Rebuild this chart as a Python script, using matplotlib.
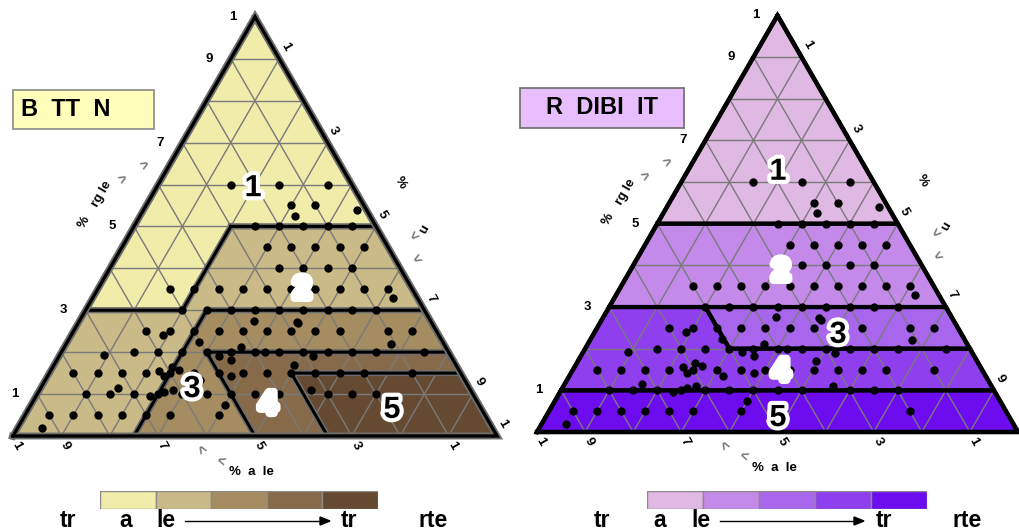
import matplotlib
matplotlib.use("Agg")
import matplotlib.pyplot as plt
import matplotlib.patheffects as pe
from matplotlib.patches import Polygon, Rectangle
import numpy as np

plt.rcParams["font.family"] = ["Liberation Sans", "DejaVu Sans"]
plt.rcParams["font.weight"] = "bold"

W, H = 1019, 530
SQ = np.sqrt(3) / 2

# samples: % of the apex component (top) and of the right-hand component
top_pct = [
    60, 60, 60,
    55, 55, 52.5, 54,
    50, 50, 50, 50, 50,
    45, 45, 45, 45, 45,
    40, 40, 40, 40,
    35, 35, 35, 35, 35, 35, 35, 35, 35, 35, 33,
    30, 30, 30, 30, 30, 30, 30, 30, 30,
    27.5, 27.3, 26.9,
    25, 25, 25, 25, 25, 25, 25, 25, 25, 25, 25,
    24, 22.4, 22,
    20, 20, 20, 20, 20, 20, 20, 20, 20, 20, 20, 20, 20,
    19.3, 19.2, 21.2, 19, 18.2,
    15, 15, 15, 15, 15, 15, 15, 15, 15, 15, 15, 15, 15, 15,
    15.5, 14.2, 16.5, 15.8, 13.4, 14.2, 17, 11,
    10, 10, 10, 10, 10, 10, 10, 10, 10, 10, 10, 10,
    11.5, 9.5, 10.5, 11,
    5, 5, 5, 5, 5, 5, 5, 5,
    2, 7.5,
]
right_pct = [
    15, 25, 35,
    30, 35, 32, 44,
    25, 30, 35, 40, 45,
    30, 35, 40, 45, 50,
    35, 40, 45, 50,
    15, 20, 25, 30, 35, 40, 45, 50, 55, 60, 62,
    20, 25, 30, 35, 40, 45, 50, 55, 60,
    36, 45, 45.5,
    15, 20, 25, 30, 35, 40, 45, 50, 55, 65, 70,
    19, 27.2, 67,
    15, 20, 25, 30, 35, 40, 42, 45, 50, 55, 60, 65, 75,
    9.2, 33, 36.5, 52.5, 36,
    5, 10, 15, 20, 25, 30, 35, 40, 45, 50, 55, 60, 65, 75,
    22.5, 24, 24.6, 26.3, 32, 38, 49.5, 56,
    10, 15, 20, 25, 30, 35, 40, 45, 50, 60, 65, 70,
    16, 23.5, 26, 27.5,
    5, 10, 15, 20, 25, 30, 40, 75,
    5, 40,
]

tick_values = [100, 90, 70, 50, 30, 10]
tick_labels = ["1", "9", "7", "5", "3", "1"]
class_labels = ["1", "2", "3", "4", "5"]

# class areas, corners given as (right, top) fractions
bottom_regions = [
    [(0, 1), (0, .3), (.2, .3), (.2, .5), (.5, .5)],
    [(.2, .5), (.5, .5), (.7, .3), (.25, .3), (.25, 0), (0, 0), (0, .3), (.2, .3)],
    [(.25, .3), (.7, .3), (.8, .2), (.3, .2), (.5, 0), (.25, 0)],
    [(.3, .2), (.8, .2), (.85, .15), (.5, .15), (.65, 0), (.5, 0)],
    [(.5, .15), (.85, .15), (1, 0), (.65, 0)],
]
bottom_colors = ["#F0ECAA", "#C9BA87", "#A58D61", "#866A4A", "#654A31"]

erod_regions = [
    [(0, 1), (0, .5), (.5, .5)],
    [(0, .5), (.5, .5), (.7, .3), (0, .3)],
    [(.2, .3), (.7, .3), (.8, .2), (.3, .2)],
    [(0, .3), (.2, .3), (.3, .2), (.8, .2), (.9, .1), (0, .1)],
    [(0, .1), (.9, .1), (1, 0), (0, 0)],
]
erod_colors = ["#DFB8E3", "#C48AEA", "#A866EC", "#8F3FEE", "#6C0CEF"]


def cart(b, c):
    b = np.asarray(b, float)
    c = np.asarray(c, float)
    return b + c / 2, c * SQ


fig = plt.figure(figsize=(W / 100, H / 100), dpi=100)


def panel(left, width, x0, y0, scale):
    ax = fig.add_axes([left / W, 0, width / W, 1])
    ax.set_xlim((left - x0) / scale, (left + width - x0) / scale)
    ax.set_ylim(-(H - y0) / scale, y0 / scale)
    ax.axis("off")
    return ax


def draw_ternary(ax, scale, x0, regions, colors, label_xy, white_labels, halo):
    for poly, col in zip(regions, colors):
        xs, ys = cart(*zip(*poly))
        ax.add_patch(Polygon(np.column_stack([xs, ys]), closed=True,
                             facecolor=col, edgecolor="none", zorder=1))
    for v in np.arange(1, 10) / 10:
        for bb, cc in (([0, 1 - v], [v, v]), ([v, v], [0, 1 - v]), ([1 - v, 0], [0, 1 - v])):
            ax.plot(*cart(bb, cc), color="#7a7a7a", lw=1, zorder=2)
    for poly in regions:
        xs, ys = cart(*zip(*poly))
        xs = np.append(xs, xs[0])
        ys = np.append(ys, ys[0])
        if halo:
            ax.plot(xs, ys, color="#6e6e6e", lw=4.2, zorder=3, solid_joinstyle="miter")
            ax.plot(xs, ys, color="black", lw=2.2, zorder=3, solid_joinstyle="miter")
        else:
            ax.plot(xs, ys, color="black", lw=3.0, zorder=3, solid_joinstyle="miter")

    px, py = cart(np.array(right_pct) / 100, np.array(top_pct) / 100)
    ax.scatter(px, py, s=36, color="black", zorder=5, linewidths=0)

    for (lx, ly), t, wl in zip(label_xy, class_labels, white_labels):
        ax.text(lx, ly, t, fontsize=22, ha="center", va="center", zorder=6,
                color="white" if wl else "black",
                path_effects=[pe.withStroke(linewidth=6, foreground="white")])

    d = 1 / scale
    for v, t in zip(tick_values, tick_labels):
        f = v / 100
        x, y = cart(0, f)
        ax.text(x - 22 * d, y, t, fontsize=9.5, ha="center", va="center")
        x, y = cart(f, 1 - f)
        if x0 + (x + 6 * d) * scale + 6 < W:
            ax.text(x + 6 * d, y + 12 * d, t, fontsize=9.5, ha="center", va="center", rotation=-60)
        x, y = cart(1 - f, 0)
        ax.text(x + 4 * d, y - 10 * d, t, fontsize=9.5, ha="center", va="center", rotation=-60)

    # axis captions
    ax.text(0.147, 0.442, "%", fontsize=9.5, rotation=60, ha="center", va="center")
    ax.text(0.184, 0.500, "rg le", fontsize=9.5, rotation=60, ha="center", va="center")
    ax.text(0.227, 0.529, ">", fontsize=10, rotation=30, color="#777777", ha="center", va="center")
    ax.text(0.273, 0.558, ">", fontsize=10, rotation=30, color="#777777", ha="center", va="center")
    ax.text(0.800, 0.523, "%", fontsize=9.5, rotation=-60, ha="center", va="center")
    ax.text(0.845, 0.430, "n", fontsize=9.5, rotation=-120, ha="center", va="center")
    ax.text(0.833, 0.411, "<", fontsize=10, rotation=45, color="#777777", ha="center", va="center")
    ax.text(0.837, 0.364, "<", fontsize=10, rotation=30, color="#777777", ha="center", va="center")
    ax.text(0.384, -0.029, "<", fontsize=10, rotation=-60, color="#777777", ha="center", va="center")
    ax.text(0.428, -0.054, "<", fontsize=10, rotation=-20, color="#777777", ha="center", va="center")
    ax.text(0.447, -0.074, "%  a  le", fontsize=9.5, ha="left", va="center")

    # outer frame
    xs, ys = cart([0, 1, 0, 0], [0, 0, 1, 0])
    if halo:
        ax.plot(xs, ys, color="#6e6e6e", lw=5, zorder=4, solid_joinstyle="miter")
        ax.plot(xs, ys, color="black", lw=2.4, zorder=4, solid_joinstyle="miter")
    else:
        ax.plot(xs, ys, color="black", lw=3.2, zorder=4, solid_joinstyle="miter")


ax1 = panel(0, 510, 13, 436, 484)
draw_ternary(ax1, 484, 13, bottom_regions, bottom_colors,
             [(0.496, 0.512), (0.597, 0.302), (0.370, 0.097), (0.527, 0.064), (0.783, 0.054)],
             [False, True, False, True, False], halo=True)

ax2 = panel(510, 509, 537, 432, 481)
draw_ternary(ax2, 481, 537, erod_regions, erod_colors,
             [(0.501, 0.541), (0.507, 0.333), (0.626, 0.202), (0.507, 0.125), (0.501, 0.029)],
             [False, True, False, True, False], halo=False)


def fx(x):
    return x / W


def fy(y):
    return 1 - y / H


# title boxes
fig.add_artist(Rectangle((fx(13), fy(129)), fx(141), 39 / H, transform=fig.transFigure,
                         facecolor="#FFFFBB", edgecolor="#8a8a8a", lw=1.2))
fig.text(fx(21), fy(110), "B  TT  N", fontsize=17, ha="left", va="center")
fig.add_artist(Rectangle((fx(520), fy(128)), fx(164), 40 / H, transform=fig.transFigure,
                         facecolor="#E8BEFF", edgecolor="#6a6a6a", lw=1.2))
fig.text(fx(602), fy(108), "R  DIBI  IT", fontsize=17, ha="center", va="center")


def legend_bar(x0, x1, colors, words, arrow):
    cax = fig.add_axes([fx(x0), fy(509), fx(x1 - x0), 18 / H])
    cax.bar(np.arange(len(colors)), 1, width=1, color=colors, edgecolor="#8a8a8a", lw=1)
    cax.set_xlim(-0.5, len(colors) - 0.5)
    cax.set_ylim(0, 1)
    cax.axis("off")
    for x, t in words:
        fig.text(fx(x), fy(527), t, fontsize=16.5, ha="center", va="baseline")
    fig.add_artist(plt.Line2D([fx(arrow[0]), fx(arrow[1] - 8)], [fy(521), fy(521)],
                              transform=fig.transFigure, color="black", lw=1))
    fig.add_artist(Polygon([[fx(arrow[1] - 10), fy(517)], [fx(arrow[1]), fy(521)],
                            [fx(arrow[1] - 10), fy(525)]], closed=True,
                           transform=fig.transFigure, color="black"))


legend_bar(100, 378, bottom_colors,
           [(68, "tr"), (126, "a"), (166, "le"), (349, "tr"), (433, "rte")], (185, 330))
legend_bar(647, 927, erod_colors,
           [(602, "tr"), (660, "a"), (701, "le"), (884, "tr"), (967, "rte")], (720, 864))

fig.savefig("out.png", dpi=100)
